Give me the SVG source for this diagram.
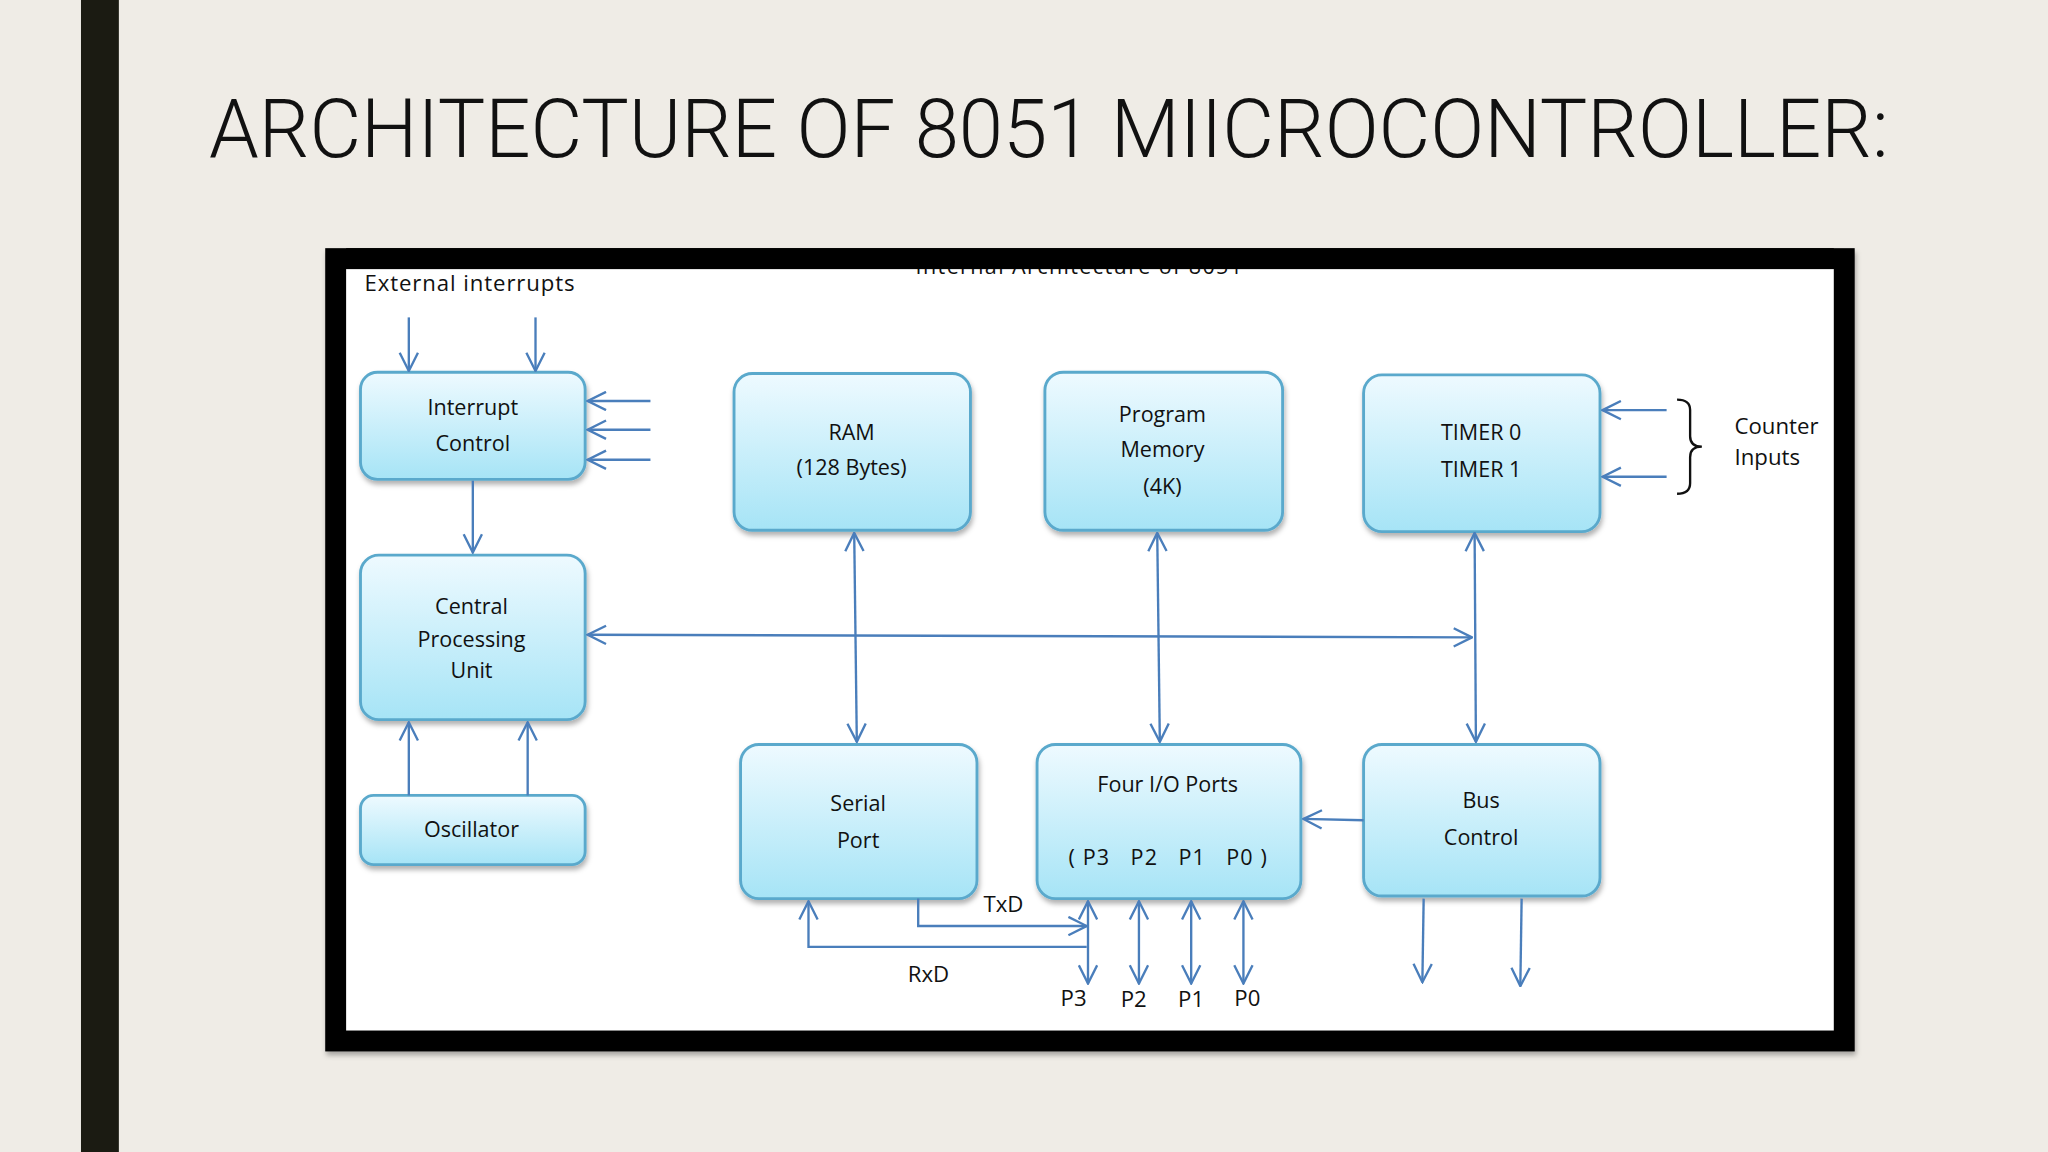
<svg xmlns="http://www.w3.org/2000/svg" width="2048" height="1152" viewBox="0 0 2048 1152">
<defs>
<linearGradient id="g" x1="0" y1="0" x2="0" y2="1"><stop offset="0" stop-color="#eefaff"/><stop offset="1" stop-color="#a6e4f6"/></linearGradient>
<marker id="a" viewBox="0 0 16 16" refX="15" refY="8" markerWidth="16" markerHeight="16" markerUnits="userSpaceOnUse" orient="auto-start-reverse"><path d="M1,1 L15,8 L1,15" fill="none" stroke="#4a7ebb" stroke-width="1.8"/></marker>
<filter id="s" x="-10%" y="-10%" width="130%" height="130%"><feDropShadow dx="1" dy="3" stdDeviation="2" flood-opacity="0.3"/></filter>
</defs>
<style>
.b{fill:url(#g);stroke:#5aa9cc;stroke-width:2.2;filter:url(#s)}
.t{font-family:"Open Sans","Liberation Sans",sans-serif;font-size:16.5px;fill:#111;text-anchor:middle}
.l{font-family:"Open Sans","Liberation Sans",sans-serif;font-size:17px;fill:#111}
.c{fill:none;stroke:#4a7ebb;stroke-width:1.8}
</style>
<rect width="2048" height="1152" fill="#efece6"/>
<g transform="scale(1.30612)">
<rect x="62" y="0" width="29" height="882" fill="#1b1b12"/>
<text x="160" y="120" font-family="Roboto,Liberation Sans,sans-serif" font-weight="300" font-size="63" fill="#111" textLength="1286" lengthAdjust="spacingAndGlyphs">ARCHITECTURE OF 8051 MIICROCONTROLLER:</text>
<rect x="249" y="190" width="1171" height="615" fill="#000" filter="url(#s)"/>
<rect x="265" y="206" width="1139" height="583" fill="#fff"/>
<text x="826" y="210" class="t" font-size="18" textLength="250">Internal Architecture of 8051</text>
<rect x="265" y="190" width="1139" height="16" fill="#000"/>
<text x="279" y="223" class="l" textLength="161">External interrupts</text>

<g id="interrupt"><rect class="b" x="276" y="285" width="172" height="82" rx="13"/><text class="t" x="362" y="318">Interrupt</text><text class="t" x="362" y="345">Control</text></g>
<g id="ram"><rect class="b" x="562" y="286" width="181" height="120" rx="14"/><text class="t" x="652" y="337">RAM</text><text class="t" x="652" y="364">(128 Bytes)</text></g>
<g id="progmem"><rect class="b" x="800" y="285" width="182" height="121" rx="14"/><text class="t" x="890" y="323">Program</text><text class="t" x="890" y="350">Memory</text><text class="t" x="890" y="378">(4K)</text></g>
<g id="timer"><rect class="b" x="1044" y="287" width="181" height="120" rx="14"/><text class="t" x="1134" y="337">TIMER 0</text><text class="t" x="1134" y="365">TIMER 1</text></g>
<g id="cpu"><rect class="b" x="276" y="425" width="172" height="126" rx="14"/><text class="t" x="361" y="470">Central</text><text class="t" x="361" y="495">Processing</text><text class="t" x="361" y="519">Unit</text></g>
<g id="osc"><rect class="b" x="276" y="609" width="172" height="53" rx="10"/><text class="t" x="361" y="641">Oscillator</text></g>
<g id="serial"><rect class="b" x="567" y="570" width="181" height="118" rx="14"/><text class="t" x="657" y="621">Serial</text><text class="t" x="657" y="649">Port</text></g>
<g id="io"><rect class="b" x="794" y="570" width="202" height="118" rx="14"/><text class="t" x="894" y="606">Four I/O Ports</text><text class="t" x="894" y="662" xml:space="preserve" textLength="152">( P3   P2   P1   P0 )</text></g>
<g id="bus"><rect class="b" x="1044" y="570" width="181" height="116" rx="14"/><text class="t" x="1134" y="619">Bus</text><text class="t" x="1134" y="647">Control</text></g>

<g id="connectors" class="c">
<path class="c" d="M313,243V284" marker-end="url(#a)"/>
<path class="c" d="M410,243V284" marker-end="url(#a)"/>
<path class="c" d="M498,307H450" marker-end="url(#a)"/>
<path class="c" d="M498,329H450" marker-end="url(#a)"/>
<path class="c" d="M498,352H450" marker-end="url(#a)"/>
<path class="c" d="M362,368V423" marker-end="url(#a)"/>
<path class="c" d="M450,486L1127,488" marker-start="url(#a)" marker-end="url(#a)"/>
<path class="c" d="M654,408L656,568" marker-start="url(#a)" marker-end="url(#a)"/>
<path class="c" d="M886,408L888,568" marker-start="url(#a)" marker-end="url(#a)"/>
<path class="c" d="M1129,408L1130,568" marker-start="url(#a)" marker-end="url(#a)"/>
<path class="c" d="M313,609V553" marker-end="url(#a)"/>
<path class="c" d="M404,609V553" marker-end="url(#a)"/>
<path class="c" d="M1276,314H1227" marker-end="url(#a)"/>
<path class="c" d="M1276,365H1227" marker-end="url(#a)"/>
<path class="c" d="M1044,628L998,627" marker-end="url(#a)"/>
<path class="c" d="M1090,688L1089,752" marker-end="url(#a)"/>
<path class="c" d="M1165,688L1164,755" marker-end="url(#a)"/>
<path class="c" d="M703,688V709H832" marker-end="url(#a)"/>
<path class="c" d="M832,725H619V690" marker-end="url(#a)"/>
<path class="c" d="M833,690V753" marker-start="url(#a)" marker-end="url(#a)"/>
<path class="c" d="M872,690V753" marker-start="url(#a)" marker-end="url(#a)"/>
<path class="c" d="M912,690V753" marker-start="url(#a)" marker-end="url(#a)"/>
<path class="c" d="M952,690V753" marker-start="url(#a)" marker-end="url(#a)"/>
</g>
<path d="M1284,306Q1294,306 1294,314V334Q1294,342 1303,342Q1294,342 1294,350V370Q1294,378 1284,378" fill="none" stroke="#111" stroke-width="1.8"/>
<text class="l" x="1328" y="332">Counter</text>
<text class="l" x="1328" y="356">Inputs</text>
<text class="l" x="753" y="698">TxD</text>
<text class="l" x="695" y="752">RxD</text>
<text class="l" x="812" y="770">P3</text>
<text class="l" x="858" y="771">P2</text>
<text class="l" x="902" y="771">P1</text>
<text class="l" x="945" y="770">P0</text>
</g>
</svg>
